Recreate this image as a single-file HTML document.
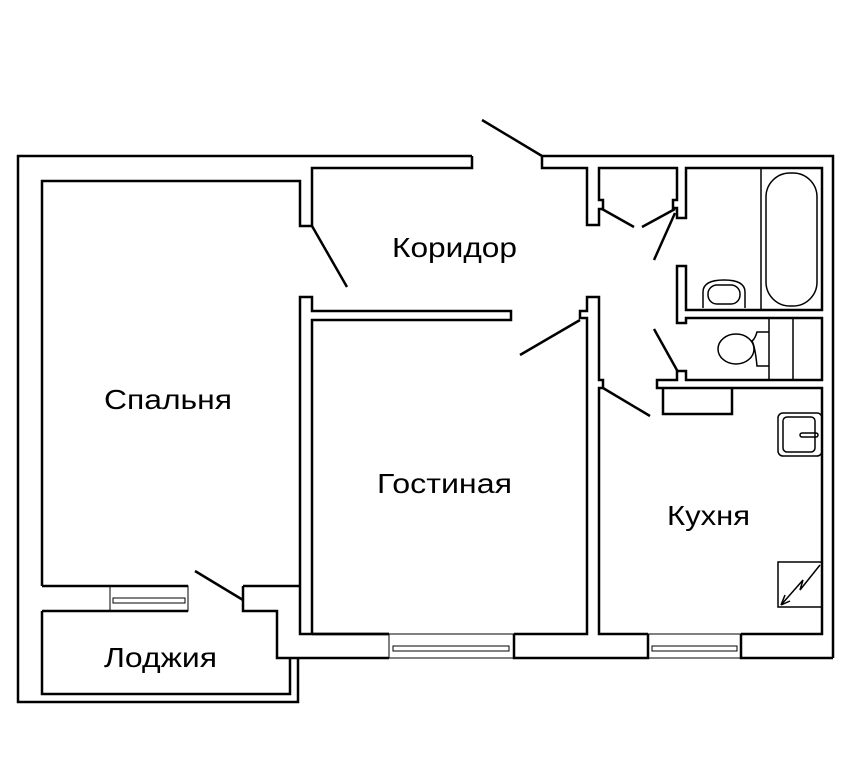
<!DOCTYPE html>
<html><head><meta charset="utf-8"><style>
html,body{margin:0;padding:0;background:#fff}
svg{display:block}
text{font-family:"Liberation Sans",sans-serif;font-size:28px;fill:#000}
</style></head><body>
<svg width="852" height="768" viewBox="0 0 852 768">
<g fill="none" stroke="#000" stroke-width="2.5" stroke-linejoin="miter">
<path d="M472,156 H18 V702 H298 V658"/>
<path d="M42,586 V181 H300 V226 H312 V168 H472 V156"/>
<path d="M42,586 H110 M188,586 H110 M243,586 H300"/>
<path d="M42,611 H110 M188,611 H110"/>
<path d="M243,586 V611 H277 V658 H389"/>
<path d="M42,611 V694 H290 V658"/>
<path d="M300,586 V297 H312 V311 H511 V320 H312 V634"/>
<path d="M300,586 V634 H389"/>
<path d="M312,634 H389"/>
<path d="M514,634 H587 V318 H580 V311 H587 V297 H599 V380 H603 V388 H599 V634 H648"/>
<path d="M514,634 V658 H648 V634"/>
<path d="M741,634 V658 H833"/>
<path d="M741,634 H822 V388 H657 V380 H677 V371 H686 V380 H822 V318 H686 V323 H677 V266 H686 V310 H822 V168 H686 V218 H677 V208 H673 V200 H677 V168 H599 V200 H603 V209 H599 V225 H587 V168 H542 V156 H833 V658"/>
<path d="M663,388 V414 H732 V388"/>
</g>
<g fill="none" stroke="#000" stroke-width="1">
<rect x="110" y="586" width="78" height="25"/>
<rect x="113" y="598" width="72" height="5"/>
<rect x="389" y="634" width="125" height="24"/>
<rect x="393" y="646" width="116" height="5"/>
<rect x="648" y="634" width="93" height="24"/>
<rect x="652" y="646" width="85" height="5"/>
</g>
<g stroke="#000" stroke-width="2.5" fill="none">
<line x1="482" y1="120" x2="542" y2="156"/>
<line x1="312" y1="226" x2="347" y2="287"/>
<line x1="602" y1="209" x2="634" y2="227"/>
<line x1="642" y1="227" x2="675" y2="209"/>
<line x1="675" y1="213" x2="654" y2="260"/>
<line x1="654" y1="329" x2="678" y2="372"/>
<line x1="580" y1="320" x2="520" y2="355"/>
<line x1="603" y1="388" x2="650" y2="416"/>
<line x1="195" y1="571" x2="243" y2="600"/>
</g>
<g fill="none" stroke="#000" stroke-width="1.5">
<line x1="761" y1="168" x2="761" y2="310"/>
<rect x="766" y="173" width="51" height="133" rx="24"/>
<path d="M703,308 V292 Q703,280 724,280 Q745,280 745,292 V308"/>
<rect x="708" y="285" width="32" height="19" rx="9"/>
<line x1="769" y1="318" x2="769" y2="380"/>
<line x1="793" y1="318" x2="793" y2="380"/>
<path d="M769,332 H757 Q755,339 752,341 Q755,346 757,366 H769"/>
<ellipse cx="736" cy="349" rx="18" ry="15"/>
<rect x="778" y="413" width="44" height="43" rx="5"/>
<rect x="783" y="417" width="32" height="35" rx="4"/>
<rect x="800" y="433" width="18" height="4" rx="2"/>
<rect x="778" y="562" width="44" height="45"/>
<path d="M820,565 L800,590 L803,580 L781,605 M781,605 L785,595 M781,605 L790,601"/>
</g>
<text x="392" y="257" textLength="125" lengthAdjust="spacingAndGlyphs">Коридор</text>
<text x="104" y="409" textLength="128" lengthAdjust="spacingAndGlyphs">Спальня</text>
<text x="377" y="493" textLength="135" lengthAdjust="spacingAndGlyphs">Гостиная</text>
<text x="667" y="525" textLength="83" lengthAdjust="spacingAndGlyphs">Кухня</text>
<text x="104" y="667" textLength="113" lengthAdjust="spacingAndGlyphs">Лоджия</text>
</svg>
</body></html>
